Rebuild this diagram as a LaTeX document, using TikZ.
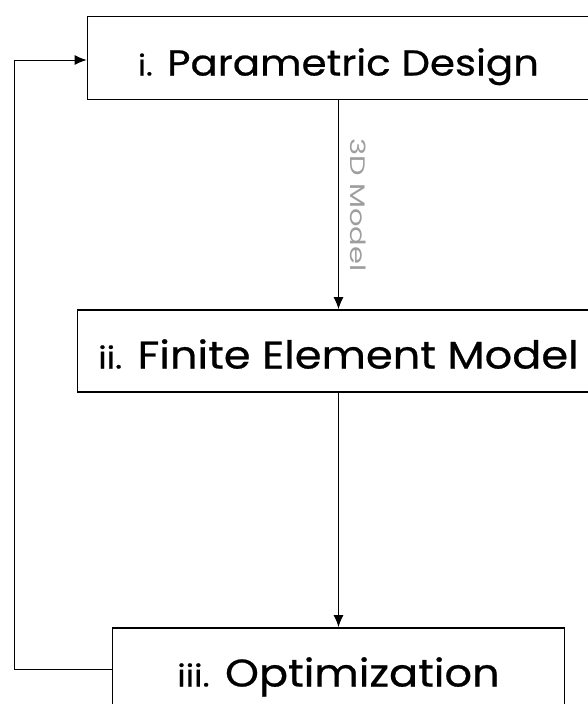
\documentclass[tikz,border=0pt]{standalone}
\usepackage{fontspec}
\setmainfont{Poppins}
\newfontfamily\boxfont[FakeStretch=1.12,FakeBold=0.6]{Poppins}
\newfontfamily\lblfont[FakeStretch=1.38]{Poppins}
\usetikzlibrary{arrows.meta}
\begin{document}
\begin{tikzpicture}[x=1pt,y=1pt,
  box/.style={draw=black, line width=1.8pt, fill=white, inner sep=0pt, align=center,
    text height=35pt, text depth=0pt, font=\boxfont\fontsize{36}{40}\selectfont},
  bigbox/.style={box, font=\boxfont\fontsize{38.5}{42}\selectfont},
  arr/.style={draw=black, line width=1pt, -{Latex[length=12pt,width=10pt]}},
  lbl/.style={text=black!38, font=\lblfont\fontsize{21}{24}\selectfont}]
\useasboundingbox (0,0) rectangle (588,-704);
\clip (0,0) rectangle (588,-704);
\fill[white] (0,0) rectangle (588,-704);
\node[box, minimum width=502pt, minimum height=83pt] (b1) at (338.5,-58)
  {{\fontsize{29}{32}\selectfont i.} Parametric Design};
\node[bigbox, minimum width=522pt, minimum height=82pt] (b2) at (338.5,-351)
  {{\fontsize{30.5}{32}\selectfont ii.} Finite Element Model};
\node[bigbox, minimum width=452pt, minimum height=82pt] (b3) at (338.5,-669)
  {{\fontsize{30.5}{32}\selectfont iii.} Optimization};
\draw[arr] (b1) -- node[lbl, midway, rotate=-90, anchor=south, inner sep=11pt] {3D Model} (b2);
\draw[arr] (b2) -- (b3);
\coordinate (fb) at (14,-669);
\draw[arr] (b3.west) -- (fb) |- ([yshift=-2pt]b1.west);
\end{tikzpicture}
\end{document}
